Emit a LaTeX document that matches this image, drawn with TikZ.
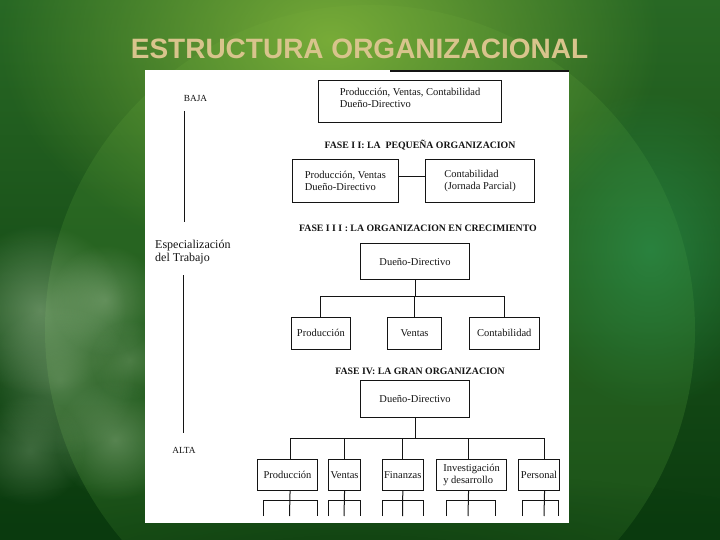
\documentclass[tikz,border=0pt]{standalone}
\usepackage{fontspec}
\setmainfont{Liberation Serif}
\newfontfamily\titlefont{Liberation Sans}
\usetikzlibrary{fadings}
\tikzfading[name=softglow, inner color=transparent!0, outer color=transparent!100]
\definecolor{titletan}{RGB}{216,196,140}
\definecolor{bgtop}{RGB}{40,104,36}
\definecolor{bgmid}{RGB}{26,98,38}
\definecolor{bgbot}{RGB}{10,58,14}
\definecolor{glow}{RGB}{128,178,58}
\definecolor{ringgreen}{RGB}{70,140,50}
\definecolor{tealglow}{RGB}{44,150,82}
\definecolor{cloudc}{RGB}{170,198,160}
\definecolor{ink}{RGB}{20,20,20}
\begin{document}
\begin{tikzpicture}[x=1pt,y=-1pt,
  box/.style={draw=ink, line width=1.1pt, rectangle, inner sep=0pt, anchor=north west,
    align=left, text=ink, font=\fontsize{10.5}{11.5}\selectfont},
  phase/.style={text=ink, inner sep=0pt, font=\bfseries\fontsize{9.8}{11}\selectfont},
  axislbl/.style={text=ink, inner sep=0pt, font=\fontsize{9.3}{10}\selectfont},
  link/.style={draw=ink, line width=1pt},
  axisline/.style={draw=ink, line width=1pt},
]
\useasboundingbox (0,0) rectangle (720,540);
\begin{scope}
\clip (0,0) rectangle (720,540);
% background
\shade[top color=bgtop, middle color=bgmid, bottom color=bgbot] (0,0) rectangle (720,540);
\fill[ringgreen, opacity=0.3] (370,330) circle (325);
\fill[glow, path fading=softglow, opacity=0.9] (330,40) ellipse (330 and 230);
\fill[tealglow, path fading=softglow, opacity=0.6] (650,250) ellipse (130 and 160);
\fill[bgbot, path fading=softglow, opacity=0.7] (360,560) ellipse (500 and 90);
% cloud
\foreach \cx/\cy/\r/\o in {40/310/85/0.5, 105/300/55/0.4, 60/380/75/0.35, 115/440/60/0.4,
  30/450/55/0.3, 130/360/40/0.3}
  \fill[cloudc, path fading=softglow, opacity=\o] (\cx,\cy) circle (\r);
\end{scope}

% title
\node[font=\titlefont\bfseries\fontsize{28}{32}\selectfont, text=titletan, inner sep=0pt] (title) at (359.5,49) {ESTRUCTURA ORGANIZACIONAL};

% panel
\fill[white] (145,70) rectangle (569,523);
\draw[ink, line width=1.2pt] (390,71) -- (569,71);

% axis
\node[axislbl] (baja) at (195.5,98) {BAJA};
\node[text=ink, inner sep=0pt, anchor=west, align=left, font=\fontsize{12}{13}\selectfont] (esp) at (155,252.5) {Especialización\\del Trabajo};
\node[axislbl] (alta) at (184,450) {ALTA};
\coordinate (a1) at (184.5,111);
\coordinate (a2) at (184.5,222);
\coordinate (a3) at (183.5,275);
\coordinate (a4) at (183.5,433);
\draw[axisline] (a1) -- (a2);
\draw[axisline] (a3) -- (a4);

% phase I
\node[box, minimum width=183, minimum height=42] (b1) at (318,80) {Producción, Ventas, Contabilidad\\Dueño-Directivo\\[-4.5pt]};

% phase II
\node[phase] (f2) at (420,145) {FASE I I: LA\ \ PEQUEÑA ORGANIZACION};
\node[box, minimum width=106.5, minimum height=43] (b2a) at (291.5,159) {Producción, Ventas\\Dueño-Directivo};
\node[box, minimum width=109, minimum height=43] (b2b) at (425,159) {Contabilidad\\(Jornada Parcial)};
\draw[link] ([yshift=5pt]b2a.east) -- ([yshift=5pt]b2b.west);

% phase III
\node[phase] (f3) at (418,228.5) {FASE I I I : LA ORGANIZACION EN CRECIMIENTO};
\node[box, minimum width=109, minimum height=36] (b3) at (360,243) {Dueño-Directivo};
\node[box, minimum width=59.4, minimum height=31.6] (p3) at (290.6,317) {Producción};
\node[box, minimum width=54, minimum height=31.6] (v3) at (387,317) {Ventas};
\node[box, minimum width=69.6, minimum height=31.6] (c3) at (469,317) {Contabilidad};
\coordinate (j3) at ([yshift=-16.5pt]b3.south);
\draw[link] (b3.south) -- (j3);
\draw[link] (p3.north) |- (j3) -| (c3.north);
\draw[link] (v3.north) -- (v3.north |- j3);

% phase IV
\node[phase] (f4) at (420,371) {FASE IV: LA GRAN ORGANIZACION};
\node[box, minimum width=109, minimum height=36.5] (b4) at (360,380) {Dueño-Directivo};
\node[box, minimum width=60, minimum height=31] (pr4) at (257,459) {Producción};
\node[box, minimum width=32, minimum height=31] (ve4) at (328,459) {Ventas};
\node[box, minimum width=41.5, minimum height=31] (fi4) at (381.5,459) {Finanzas};
\node[box, minimum width=70, minimum height=31] (in4) at (436,459) {Investigación\\y desarrollo};
\node[box, minimum width=41, minimum height=31] (pe4) at (518,459) {Personal};
\coordinate (j4) at ([yshift=-21pt]b4.south);
\draw[link] (b4.south) -- (j4);
\draw[link] ([xshift=2.5pt]pr4.north) |- (j4) -| ([xshift=5.5pt]pe4.north);
\draw[link] (ve4.north) -- (ve4.north |- j4);
\draw[link] (fi4.north) -- (fi4.north |- j4);
\draw[link] ([xshift=-3pt]in4.north) -- ([xshift=-3pt]in4.north |- j4);

% truncated lower level
\coordinate (d1) at (289.5,516);
\coordinate (d2) at (344,516);
\coordinate (d3) at (402.5,516);
\coordinate (d4) at (468,516);
\coordinate (d5) at (544,516);
\draw[link] ([xshift=2.5pt]pr4.south) -- (d1);
\draw[link] (ve4.south) -- (d2);
\draw[link] (fi4.south) -- (d3);
\draw[link] ([xshift=-3pt]in4.south) -- (d4);
\draw[link] ([xshift=5.5pt]pe4.south) -- (d5);
\draw[link] (263,516) |- (317,500) -- (317,516);
\draw[link] (328,516) |- (360,500) -- (360,516);
\draw[link] (382,516) |- (423,500) -- (423,516);
\draw[link] (446,516) |- (495,500) -- (495,516);
\draw[link] (522,516) |- (558,500) -- (558,516);
\end{tikzpicture}
\end{document}
